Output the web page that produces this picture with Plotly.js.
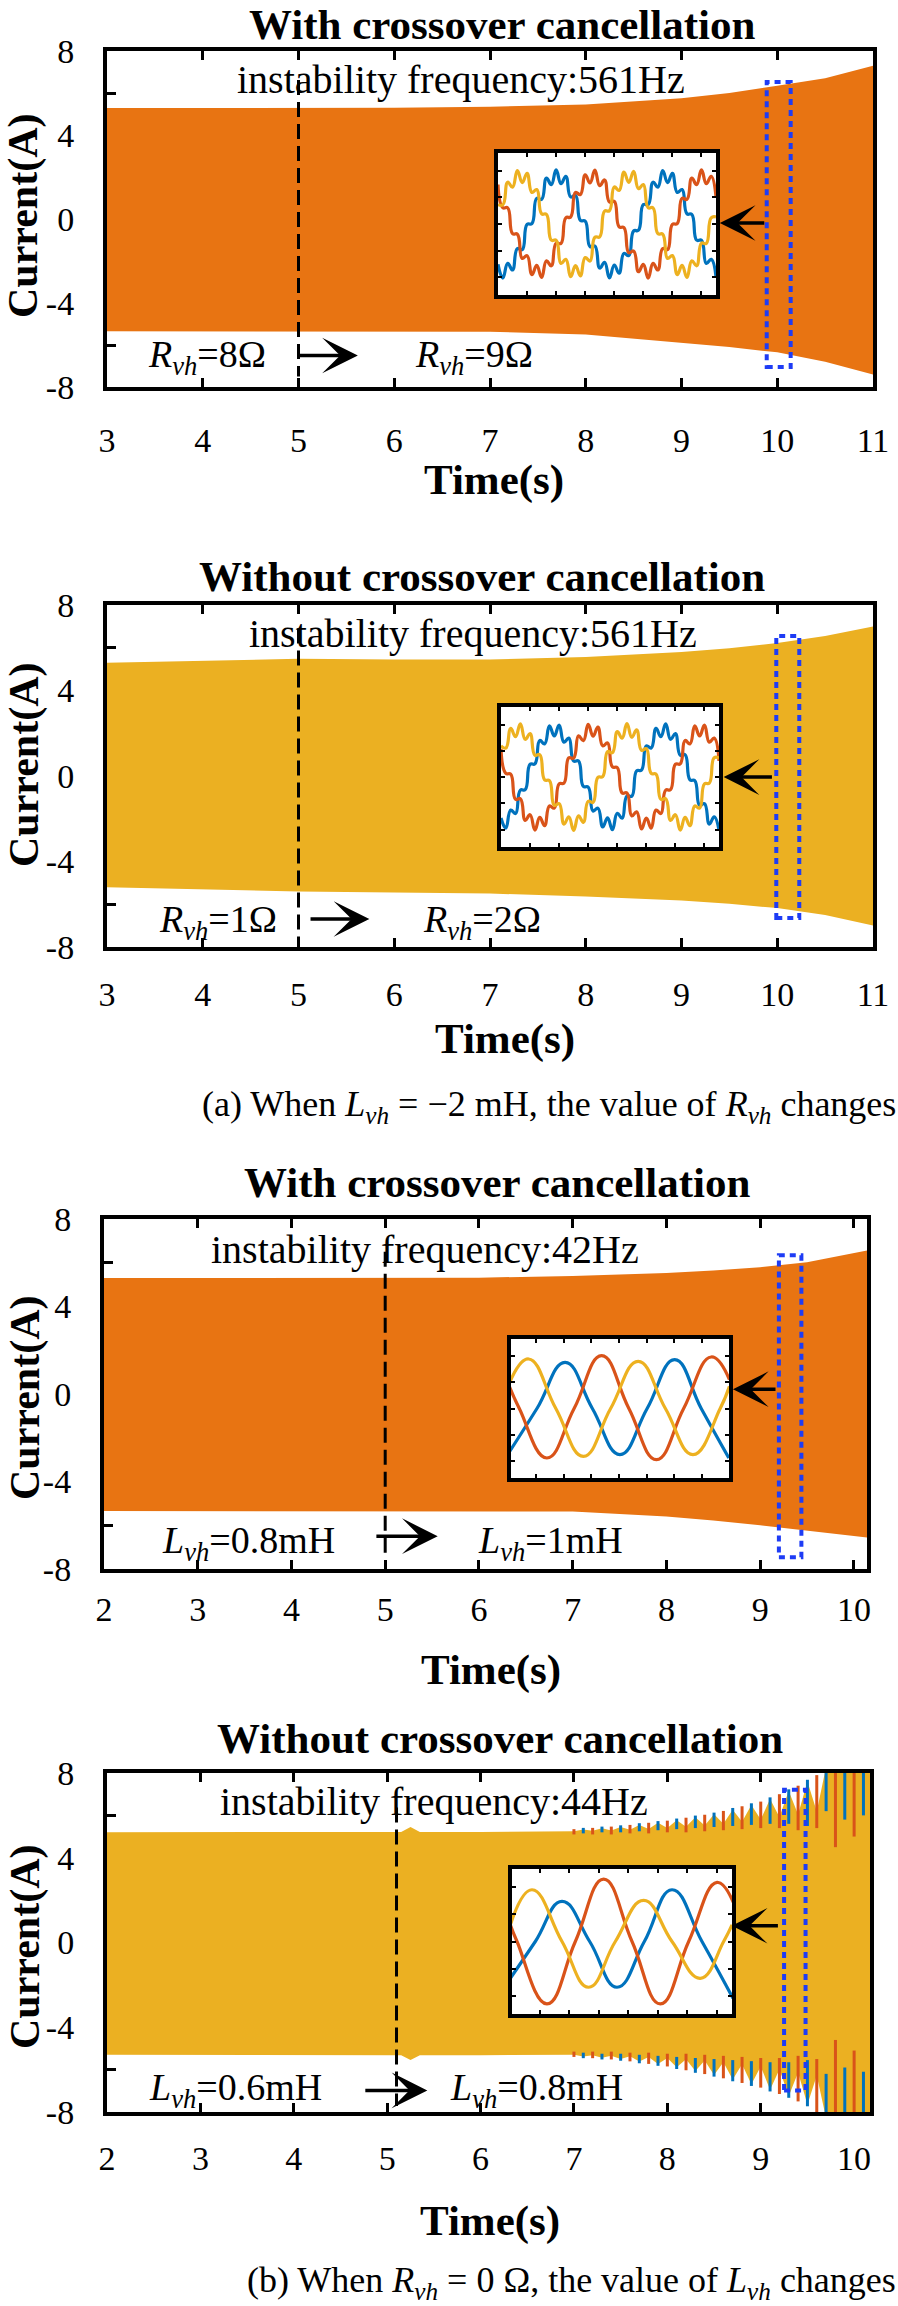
<!DOCTYPE html>
<html><head><meta charset="utf-8">
<script src="https://cdn.plot.ly/plotly-3.0.1.min.js"></script>
<style>html,body{margin:0;padding:0;background:#fff}#chart{width:898px;height:2306px}</style>
</head><body><div id="chart"></div>
<script>
// ---------------- DATA ----------------
const xTicksA = [3,4,5,6,7,8,9,10,11];
const xTicksB = [2,3,4,5,6,7,8,9,10];
const yTickVals = [-8,-4,0,4,8];
const yTickText = ['-8','-4','0','4','8'];
const yMinorTicks = [-6,-2,2,6];

// (a) top: with crossover cancellation, Rvh 8 -> 9 ohm
const p1Time  = [3, 4, 5, 6, 7, 8, 9, 9.5, 10, 10.5, 11];
const p1Upper = [5.28, 5.28, 5.28, 5.3, 5.35, 5.45, 5.75, 6.0, 6.35, 6.7, 7.3];
const p1Lower = [-5.35, -5.35, -5.35, -5.35, -5.37, -5.5, -5.9, -6.1, -6.35, -6.8, -7.4];

// (a) bottom: without crossover cancellation, Rvh 1 -> 2 ohm
const p2Time  = [3, 4, 5, 6, 7, 8, 9, 9.5, 10, 10.5, 11];
const p2Upper = [5.3, 5.4, 5.48, 5.45, 5.45, 5.57, 5.8, 5.98, 6.22, 6.55, 7.0];
const p2Lower = [-5.2, -5.3, -5.4, -5.45, -5.5, -5.64, -5.83, -5.98, -6.18, -6.5, -7.0];

// (b) top: with crossover cancellation, Lvh 0.8 -> 1 mH
const p3Time  = [2, 3, 4, 5, 6, 7, 8, 8.5, 9, 9.5, 10.14];
const p3Upper = [5.3, 5.3, 5.3, 5.3, 5.32, 5.39, 5.53, 5.65, 5.8, 6.02, 6.56];
const p3Lower = [-5.35, -5.35, -5.35, -5.35, -5.35, -5.37, -5.6, -5.78, -6.0, -6.25, -6.56];

// (b) bottom: without crossover cancellation, Lvh 0.6 -> 0.8 mH (growing oscillation)
const p4Time = [2,3,4,5,5.15,5.25,5.35,6,6.5,
  7.0,7.1,7.2,7.3,7.4,7.5,7.6,7.7,7.8,7.9,8.0,8.1,8.2,8.3,8.4,8.5,8.6,8.7,8.8,8.9,
  9.0,9.1,9.2,9.3,9.4,9.5,9.6,9.7,9.8,9.9,10.0,10.1,10.17];
const p4YellowUpper = [5.2,5.2,5.2,5.2,5.22,5.45,5.22,5.22,5.25,
  5.25,5.33,5.27,5.39,5.29,5.45,5.32,5.55,5.36,5.65,5.40,5.77,5.46,5.91,5.52,6.05,5.60,6.27,5.70,6.49,
  5.80,6.77,5.92,7.15,6.04,7.60,6.18,8.3,8.3,8.3,8.3,8.3,8.3];
const p4YellowLower = [-5.3,-5.3,-5.3,-5.3,-5.32,-5.55,-5.32,-5.32,-5.3,
  -5.30,-5.38,-5.32,-5.44,-5.34,-5.50,-5.37,-5.62,-5.41,-5.74,-5.45,-5.89,-5.51,-6.07,-5.57,-6.25,-5.65,-6.47,-5.75,-6.69,
  -5.85,-6.95,-5.99,-7.25,-6.13,-7.65,-6.28,-8.3,-8.3,-8.3,-8.3,-8.3,-8.3];
// coloured phase peaks sticking out of the yellow envelope
const p4OrangeSpikeT = [7.0,7.2,7.4,7.6,7.8,8.0,8.2,8.4,8.6,8.8,9.0,9.2,9.4,9.6,9.8,10.0];
const p4OrangeSpikeTop = [5.35,5.41,5.47,5.55,5.65,5.75,5.89,6.03,6.21,6.43,6.65,7.00,7.40,7.90,8.3,8.3];
const p4OrangeSpikeTopBase = [5.1,5.1,5.1,5.15,5.15,5.2,5.2,5.25,5.3,5.35,5.4,5.4,5.3,5.4,4.5,5.0];
const p4OrangeSpikeBottom = [-5.40,-5.46,-5.52,-5.61,-5.73,-5.85,-6.03,-6.21,-6.41,-6.63,-6.85,-7.15,-7.50,-8.0,-8.3,-8.3];
const p4OrangeSpikeBottomBase = [-5.15,-5.15,-5.15,-5.2,-5.2,-5.25,-5.25,-5.3,-5.35,-5.4,-5.45,-5.45,-5.35,-5.5,-4.6,-5.1];
const p4BlueSpikeT = [7.1,7.3,7.5,7.7,7.9,8.1,8.3,8.5,8.7,8.9,9.1,9.3,9.5,9.7,9.9,10.1];
const p4BlueSpikeTop = [5.41,5.47,5.53,5.63,5.73,5.85,5.99,6.13,6.35,6.57,6.85,7.23,7.68,8.3,8.3,8.3];
const p4BlueSpikeTopBase = [5.15,5.2,5.2,5.25,5.3,5.35,5.4,5.45,5.5,5.55,5.6,5.6,5.5,6.2,5.8,6.0];
const p4BlueSpikeBottom = [-5.46,-5.52,-5.58,-5.70,-5.82,-5.97,-6.15,-6.33,-6.55,-6.77,-7.03,-7.33,-7.73,-8.3,-8.3,-8.3];
const p4BlueSpikeBottomBase = [-5.2,-5.25,-5.25,-5.3,-5.35,-5.4,-5.45,-5.5,-5.55,-5.6,-5.65,-5.65,-5.55,-6.2,-5.9,-6.1];

// zoomed insets (three phase currents)
const insetT = [0,1,2,3,4,5,6,7,8,9,10,11,12,13,14,15,16,17,18,19,20,21,22,23,24,25,26,27,28,29,30,31,32,33,34,35,36,37,38,39,40,41,42,43,44,45];
const p1InsetYellow = [2.19,2.16,4.71,4.15,6.02,4.67,5.71,3.56,3.88,1.15,1.08,-1.82,-1.83,-4.45,-3.98,-5.94,-4.69,-5.84,-3.78,-4.17,-1.50,-1.45,1.45,1.50,4.17,3.78,5.84,4.69,5.94,3.98,4.45,1.83,1.82,-1.08,-1.15,-3.88,-3.56,-5.71,-4.67,-6.02,-4.15,-4.71,-2.16,-2.19,0.70,0.79];
const p1InsetOrange = [4.45,1.83,1.82,-1.08,-1.15,-3.88,-3.56,-5.71,-4.67,-6.02,-4.15,-4.71,-2.16,-2.19,0.70,0.79,3.56,3.31,5.55,4.62,6.07,4.31,4.96,2.48,2.55,-0.32,-0.42,-3.23,-3.05,-5.38,-4.54,-6.09,-4.44,-5.18,-2.77,-2.90,-0.05,0.05,2.90,2.77,5.18,4.44,6.09,4.54,5.38,3.05];
const p1InsetBlue = [-4.54,-6.09,-4.44,-5.18,-2.77,-2.90,-0.05,0.05,2.90,2.77,5.18,4.44,6.09,4.54,5.38,3.05,3.23,0.42,0.32,-2.55,-2.48,-4.96,-4.31,-6.07,-4.62,-5.55,-3.31,-3.56,-0.79,-0.70,2.19,2.16,4.71,4.15,6.02,4.67,5.71,3.56,3.88,1.15,1.08,-1.82,-1.83,-4.45,-3.98,-5.94];

const p2InsetYellow = [3.56,3.31,5.55,4.62,6.07,4.31,4.96,2.48,2.55,-0.32,-0.42,-3.23,-3.05,-5.38,-4.54,-6.09,-4.44,-5.18,-2.77,-2.90,-0.05,0.05,2.90,2.77,5.18,4.44,6.09,4.54,5.38,3.05,3.23,0.42,0.32,-2.55,-2.48,-4.96,-4.31,-6.07,-4.62,-5.55,-3.31,-3.56,-0.79,-0.70,2.19,2.16];
const p2InsetOrange = [3.23,0.42,0.32,-2.55,-2.48,-4.96,-4.31,-6.07,-4.62,-5.55,-3.31,-3.56,-0.79,-0.70,2.19,2.16,4.71,4.15,6.02,4.67,5.71,3.56,3.88,1.15,1.08,-1.82,-1.83,-4.45,-3.98,-5.94,-4.69,-5.84,-3.78,-4.17,-1.50,-1.45,1.45,1.50,4.17,3.78,5.84,4.69,5.94,3.98,4.45,1.83];
const p2InsetBlue = [-4.69,-5.84,-3.78,-4.17,-1.50,-1.45,1.45,1.50,4.17,3.78,5.84,4.69,5.94,3.98,4.45,1.83,1.82,-1.08,-1.15,-3.88,-3.56,-5.71,-4.67,-6.02,-4.15,-4.71,-2.16,-2.19,0.70,0.79,3.56,3.31,5.55,4.62,6.07,4.31,4.96,2.48,2.55,-0.32,-0.42,-3.23,-3.05,-5.38,-4.54,-6.09];

const p3InsetYellowT = [0, 4.33, 10.25, 16.24, 22.16, 28.15, 34.07, 40.06, 45.98, 48.0];
const p3InsetYellow  = [2.74, 5.70, 0, -5.51, 0, 5.43, 0, -5.31, 0, 2.55];
const p3InsetBlueT   = [0, 6.14, 12.27, 18.19, 24.18, 30.10, 36.09, 41.86, 47.86];
const p3InsetBlue    = [-5.12, 0, 5.31, 0, -5.31, 0, 5.62, 0, -5.70];
const p3InsetOrangeT = [0, 2.31, 8.30, 14.22, 20.21, 26.13, 32.12, 38.04, 44.03, 48.0];
const p3InsetOrange  = [2.74, 0, -5.70, 0, 6.08, 0, -5.89, 0, 5.93, 3.32];

const p4InsetYellowT = [0, 4.41, 10.52, 15.94, 21.37, 27.14, 32.91, 38.67, 43.42, 45.12];
const p4InsetYellow  = [1.84, 5.71, 0, -5.05, 0, 4.53, 0, -4.06, 0, 1.84];
const p4InsetBlueT   = [0, 5.09, 10.52, 16.15, 21.71, 27.28, 32.91, 39.01, 45.32];
const p4InsetBlue    = [-4.06, 0, 4.42, 0, -5.05, 0, 5.71, 0, -6.27];
const p4InsetOrangeT = [0, 1.36, 7.46, 13.23, 19.0, 24.77, 30.53, 36.30, 42.07, 45.46];
const p4InsetOrange  = [1.84, 0, -6.89, 0, 6.89, 0, -6.89, 0, 6.53, 4.24];

const titles = ['With crossover cancellation','Without crossover cancellation','With crossover cancellation','Without crossover cancellation'];
const freqLabels = ['instability frequency:561Hz','instability frequency:561Hz','instability frequency:42Hz','instability frequency:44Hz'];
const leftLabels  = ['<i>R<sub>vh</sub></i>=8Ω','<i>R<sub>vh</sub></i>=1Ω','<i>L<sub>vh</sub></i>=0.8mH','<i>L<sub>vh</sub></i>=0.6mH'];
const rightLabels = ['<i>R<sub>vh</sub></i>=9Ω','<i>R<sub>vh</sub></i>=2Ω','<i>L<sub>vh</sub></i>=1mH','<i>L<sub>vh</sub></i>=0.8mH'];
const captionA = '(a) When <i>L<sub>vh</sub></i> = −2 mH, the value of <i>R<sub>vh</sub></i> changes';
const captionB = '(b) When <i>R<sub>vh</sub></i> = 0 Ω, the value of <i>L<sub>vh</sub></i> changes';

// ---------------- STYLE / LAYOUT ----------------
const W = 898, H = 2306;
const px = x => x / W, py = y => 1 - y / H;
const SERIF = 'Liberation Serif, Times New Roman, serif';
const ORANGE_BAND = '#E87412', YELLOW_BAND = '#EBB022';
const C_BLUE = '#0072BD', C_ORANGE = '#D95319', C_YELLOW = '#EDB120';
const DOT_BLUE = '#1E3CF5';

// layout geometry of each panel (pixels) and annotation anchor positions
const P = [
  {x0:107,x1:873,y0:51,y1:387,xr:[3,11],xt:xTicksA,xStand:20,tY:24,tX:502,timeY:480,timeX:494,curY:216,curX:24,
   ins:{x0:498,x1:716,y0:153,y1:295,xr:[0,45],dt:6},
   freq:{x:6.70,y:6.62}, dash:{x:5,y0:6.62,y1:-7.5}, lab:{l:4.04,r:6.83,y:-6.57}, arr:{x0:5.0,x1:5.62,y:-6.5},
   iarr:{x0:9.88,x1:9.40,y:-0.19}, box:{x0:9.89,x1:10.14,y0:-7.05,y1:6.52}},
  {x0:107,x1:873,y0:605,y1:947,xr:[3,11],xt:xTicksA,xStand:14,tY:576,tX:482,timeY:1039,timeX:505,curY:765,curX:24,
   ins:{x0:501,x1:719,y0:707,y1:847,xr:[0,45],dt:6},
   freq:{x:6.82,y:6.69}, dash:{x:5,y0:6.9,y1:-8}, lab:{l:4.16,r:6.92,y:-6.83}, arr:{x0:5.11,x1:5.74,y:-6.69},
   iarr:{x0:9.96,x1:9.44,y:-0.05}, box:{x0:9.99,x1:10.23,y0:-6.64,y1:6.55}},
  {x0:104,x1:867,y0:1219,y1:1569,xr:[2,10.14],xt:xTicksB,xStand:7,tY:1182,tX:497,timeY:1670,timeX:491,curY:1398,curX:25,
   ins:{x0:511,x1:729,y0:1339,y1:1478,xr:[0.5,47.9],dt:6},
   freq:{x:5.42,y:6.6}, dash:{x:5,y0:6.5,y1:-7.3}, lab:{l:3.54,r:6.76,y:-6.83}, arr:{x0:4.89,x1:5.56,y:-6.5},
   iarr:{x0:9.18,x1:8.71,y:0.22}, box:{x0:9.2,x1:9.44,y0:-7.46,y1:6.34}},
  {x0:107,x1:870,y0:1773,y1:2112,xr:[2,10.17],xt:xTicksB,xStand:13,tY:1738,tX:500,timeY:2221,timeX:490,curY:1947,curX:25,
   ins:{x0:512,x1:732,y0:1869,y1:2014,xr:[0.34,45.12],dt:6},
   freq:{x:5.5,y:6.65}, dash:{x:5.1,y0:6.37,y1:-7.72}, lab:{l:3.38,r:6.6,y:-6.98}, arr:{x0:4.75,x1:5.43,y:-6.98},
   iarr:{x0:9.2,x1:8.69,y:0.79}, box:{x0:9.25,x1:9.48,y0:-6.99,y1:7.21}}
];

const traces = [];
function band(t, lo, up, color, ax, ay) {
  traces.push({type:'scatter', mode:'lines', x:t, y:lo, xaxis:ax, yaxis:ay, line:{width:0, color:color}, hoverinfo:'skip'});
  traces.push({type:'scatter', mode:'lines', x:t, y:up, xaxis:ax, yaxis:ay, line:{width:0, color:color}, fill:'tonexty', fillcolor:color, hoverinfo:'skip'});
}
function spikes(t, base, tip, color, ax, ay) {
  const xs = [], ys = [];
  t.forEach((v, k) => { xs.push(v, v, null); ys.push(base[k], tip[k], null); });
  traces.push({type:'scatter', mode:'lines', x:xs, y:ys, xaxis:ax, yaxis:ay, line:{width:3, color:color}, hoverinfo:'skip', connectgaps:false});
}
band(p1Time, p1Lower, p1Upper, ORANGE_BAND, 'x', 'y');
band(p2Time, p2Lower, p2Upper, YELLOW_BAND, 'x2', 'y2');
band(p3Time, p3Lower, p3Upper, ORANGE_BAND, 'x3', 'y3');
band(p4Time, p4YellowLower, p4YellowUpper, YELLOW_BAND, 'x4', 'y4');
spikes(p4OrangeSpikeT, p4OrangeSpikeTopBase, p4OrangeSpikeTop, C_ORANGE, 'x4', 'y4');
spikes(p4OrangeSpikeT, p4OrangeSpikeBottomBase, p4OrangeSpikeBottom, C_ORANGE, 'x4', 'y4');
spikes(p4BlueSpikeT, p4BlueSpikeTopBase, p4BlueSpikeTop, C_BLUE, 'x4', 'y4');
spikes(p4BlueSpikeT, p4BlueSpikeBottomBase, p4BlueSpikeBottom, C_BLUE, 'x4', 'y4');

function curve(x, y, color, ax, ay, smooth) {
  traces.push({type:'scatter', mode:'lines', x:x, y:y, xaxis:ax, yaxis:ay,
    line:{color:color, width:3.2, shape:'spline', smoothing:smooth}, hoverinfo:'skip'});
}
curve(insetT, p1InsetBlue, C_BLUE, 'x5', 'y5', 1.3);
curve(insetT, p1InsetOrange, C_ORANGE, 'x5', 'y5', 1.3);
curve(insetT, p1InsetYellow, C_YELLOW, 'x5', 'y5', 1.3);
curve(insetT, p2InsetBlue, C_BLUE, 'x6', 'y6', 1.3);
curve(insetT, p2InsetOrange, C_ORANGE, 'x6', 'y6', 1.3);
curve(insetT, p2InsetYellow, C_YELLOW, 'x6', 'y6', 1.3);
curve(p3InsetBlueT, p3InsetBlue, C_BLUE, 'x7', 'y7', 1.3);
curve(p3InsetOrangeT, p3InsetOrange, C_ORANGE, 'x7', 'y7', 1.3);
curve(p3InsetYellowT, p3InsetYellow, C_YELLOW, 'x7', 'y7', 1.3);
curve(p4InsetBlueT, p4InsetBlue, C_BLUE, 'x8', 'y8', 1.3);
curve(p4InsetOrangeT, p4InsetOrange, C_ORANGE, 'x8', 'y8', 1.3);
curve(p4InsetYellowT, p4InsetYellow, C_YELLOW, 'x8', 'y8', 1.3);

const layout = {
  width: W, height: H, margin:{l:0,r:0,t:0,b:0},
  paper_bgcolor:'#ffffff', plot_bgcolor:'rgba(0,0,0,0)', showlegend:false,
  shapes:[], annotations:[]
};
const tickFont = {family:SERIF, size:34, color:'#000'};

P.forEach((p, i) => {
  const n = i + 1;
  const xk = n === 1 ? 'xaxis' : 'xaxis' + n, yk = n === 1 ? 'yaxis' : 'yaxis' + n;
  const xid = n === 1 ? 'x' : 'x' + n, yid = n === 1 ? 'y' : 'y' + n;
  layout[xk] = {domain:[px(p.x0), px(p.x1)], range:p.xr, anchor:yid, showline:true, linecolor:'#000', linewidth:4,
    mirror:'allticks', ticks:'inside', ticklen:9, tickwidth:3, tickcolor:'#000', showgrid:false, zeroline:false,
    tickmode:'array', tickvals:p.xt, ticktext:p.xt.map(String), tickfont:tickFont, ticklabelstandoff:p.xStand,
    layer:'below traces', fixedrange:true};
  layout[yk] = {domain:[py(p.y1), py(p.y0)], range:[-8,8], anchor:xid, showline:true, linecolor:'#000', linewidth:4,
    mirror:'allticks', ticks:'inside', ticklen:9, tickwidth:3, tickcolor:'#000', showgrid:false, zeroline:false,
    tickmode:'array', tickvals:yTickVals, ticktext:yTickText, tickfont:tickFont, ticklabelstandoff:22,
    minor:{tickmode:'array', tickvals:yMinorTicks, ticks:'inside', ticklen:9, tickwidth:3, tickcolor:'#000', showgrid:false},
    layer:'below traces', fixedrange:true};
  // inset axes
  const m = n + 4;
  const ix = 'x' + m, iy = 'y' + m;
  layout['xaxis' + m] = {domain:[px(p.ins.x0), px(p.ins.x1)], range:p.ins.xr, anchor:iy, showline:true, linecolor:'#000',
    linewidth:4, mirror:'allticks', ticks:'inside', ticklen:4, tickwidth:2, tickcolor:'#000', dtick:p.ins.dt,
    showticklabels:false, showgrid:false, zeroline:false, fixedrange:true};
  layout['yaxis' + m] = {domain:[py(p.ins.y1), py(p.ins.y0)], range:[-8,8], anchor:ix, showline:true, linecolor:'#000',
    linewidth:4, mirror:'allticks', ticks:'inside', ticklen:4, tickwidth:2, tickcolor:'#000', dtick:3,
    showticklabels:false, showgrid:false, zeroline:false, fixedrange:true};
  layout.shapes.push({type:'rect', xref:ix, yref:iy, x0:p.ins.xr[0], x1:p.ins.xr[1], y0:-8, y1:8,
    fillcolor:'#ffffff', line:{width:0}, layer:'below'});
  // dashed switching line
  layout.shapes.push({type:'line', xref:xid, yref:yid, x0:p.dash.x, x1:p.dash.x, y0:p.dash.y0, y1:p.dash.y1,
    line:{color:'#000', width:3, dash:'15px,7px'}, layer:'above'});
  // blue dotted zoom box
  layout.shapes.push({type:'rect', xref:xid, yref:yid, x0:p.box.x0, x1:p.box.x1, y0:p.box.y0, y1:p.box.y1,
    line:{color:DOT_BLUE, width:4, dash:'6px,5px'}, fillcolor:'rgba(0,0,0,0)', layer:'above'});
  // texts
  const A = layout.annotations;
  A.push({xref:'paper', yref:'paper', x:px(p.tX), y:py(p.tY), xanchor:'center', yanchor:'middle', showarrow:false,
    text:'<b>' + titles[i] + '</b>', font:{family:SERIF, size:43, color:'#000'}});
  A.push({xref:'paper', yref:'paper', x:px(p.timeX), y:py(p.timeY), xanchor:'center', yanchor:'middle', showarrow:false,
    text:'<b>Time(s)</b>', font:{family:SERIF, size:43, color:'#000'}});
  A.push({xref:'paper', yref:'paper', x:px(p.curX), y:py(p.curY), xanchor:'center', yanchor:'middle', showarrow:false,
    textangle:-90, text:'<b>Current(A)</b>', font:{family:SERIF, size:42, color:'#000'}});
  A.push({xref:xid, yref:yid, x:p.freq.x, y:p.freq.y, xanchor:'center', yanchor:'middle', showarrow:false,
    text:freqLabels[i], font:{family:SERIF, size:40, color:'#000'}});
  A.push({xref:xid, yref:yid, x:p.lab.l, y:p.lab.y, xanchor:'center', yanchor:'middle', showarrow:false,
    text:leftLabels[i], font:{family:SERIF, size:38, color:'#000'}});
  A.push({xref:xid, yref:yid, x:p.lab.r, y:p.lab.y, xanchor:'center', yanchor:'middle', showarrow:false,
    text:rightLabels[i], font:{family:SERIF, size:38, color:'#000'}});
  A.push({xref:xid, yref:yid, axref:xid, ayref:yid, x:p.arr.x1, y:p.arr.y, ax:p.arr.x0, ay:p.arr.y, text:'',
    showarrow:true, arrowhead:3, arrowsize:1.7, arrowwidth:3.5, arrowcolor:'#000', standoff:0});
  A.push({xref:xid, yref:yid, axref:xid, ayref:yid, x:p.iarr.x1, y:p.iarr.y, ax:p.iarr.x0, ay:p.iarr.y, text:'',
    showarrow:true, arrowhead:3, arrowsize:1.7, arrowwidth:3.5, arrowcolor:'#000', standoff:0});
});
layout.annotations.push({xref:'paper', yref:'paper', x:px(898), y:py(1106), xanchor:'right', yanchor:'middle',
  showarrow:false, text:captionA, font:{family:SERIF, size:36, color:'#000'}});
layout.annotations.push({xref:'paper', yref:'paper', x:px(898), y:py(2282), xanchor:'right', yanchor:'middle',
  showarrow:false, text:captionB, font:{family:SERIF, size:36, color:'#000'}});

Plotly.newPlot('chart', traces, layout, {staticPlot:true, displayModeBar:false});
</script>
</body></html>
